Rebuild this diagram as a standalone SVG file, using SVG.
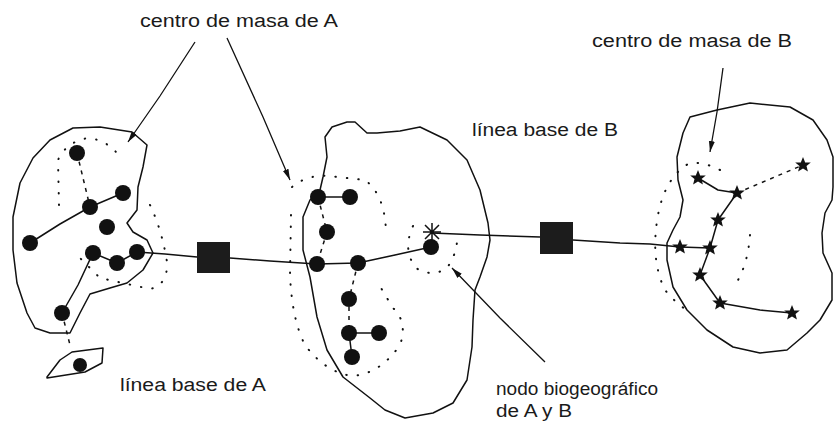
<svg xmlns="http://www.w3.org/2000/svg" width="834" height="426" viewBox="0 0 834 426">
  <style>
    .outline{fill:none;stroke:#111;stroke-width:1.5;stroke-linejoin:round}
    .link{fill:none;stroke:#111;stroke-width:1.5;stroke-linejoin:round}
    .dash{fill:none;stroke:#111;stroke-width:1.5;stroke-dasharray:4 5}
    .dots{fill:none;stroke:#111;stroke-width:2;stroke-linecap:round;stroke-dasharray:0.5 11}
    .leader{fill:none;stroke:#111;stroke-width:1.3;marker-end:url(#arrow)}
    .dot{fill:#111}
    .star{fill:#111}
    .hub{fill:#1c1c1c}
    text{font-family:"Liberation Sans",Arial,sans-serif;font-size:18px;fill:#1a1a1a}
  </style>
  <defs>
    <marker id="arrow" markerUnits="userSpaceOnUse" markerWidth="12" markerHeight="8" refX="11" refY="3.5" orient="auto">
      <path d="M0,0.5 L11,3.5 L0,6.5 Z" fill="#111"/>
    </marker>
    <path id="star5" d="M0,-8 L2.2,-2.6 L7.8,-2.5 L3.5,1.1 L4.9,6.6 L0,3.5 L-4.9,6.6 L-3.5,1.1 L-7.8,-2.5 L-2.2,-2.6 Z"/>
  </defs>

  <rect width="834" height="426" fill="#fff"/>

  <!-- area outlines -->
  <g id="areas">
    <path id="area-A" class="outline" d="M132,132 L100,127 L73,128 L50,140 L33,158 L20,183 L13,217 L13,250 L17,283 L27,313 L35,328 L50,333 L70,333 L80,313 L90,294 L110,288 L127,283 L143,270 L153,253 L147,240 L133,232 L127,223 L137,210 L138,187 L143,167 L147,145 Z"/>
    <path id="area-A-small" class="outline" d="M47,377 L60,360 L72,352 L103,348 L102,363 L85,372 L47,378 Z"/>
    <path id="area-AB" class="outline" d="M325,137 L332,127 L347,122 L355,122 L367,133 L377,133 L400,131 L420,127 L447,140 L467,160 L480,190 L488,223 L490,240 L487,257 L480,277 L475,290 L473,320 L472,347 L467,380 L453,403 L433,413 L405,418 L385,410 L370,398 L343,377 L327,350 L317,317 L310,277 L303,250 L303,217 L310,200 L320,190 L323,177 L327,157 Z"/>
    <path id="area-B" class="outline" d="M683,133 L690,117 L717,110 L750,103 L790,107 L813,120 L827,140 L833,157 L833,187 L832,200 L825,213 L822,233 L823,253 L832,273 L832,300 L820,320 L807,333 L787,350 L760,353 L733,347 L707,330 L687,310 L673,287 L667,260 L667,243 L673,230 L680,217 L683,200 L678,180 L677,157 Z"/>
  </g>

  <!-- dotted cluster envelopes -->
  <g id="envelopes">
    <path class="dots" d="M59,205 L58,160 Q66,142 88,138 Q108,140 120,157"/>
    <path class="dots" d="M150,205 Q162,230 167,262 Q168,285 150,289 L100,278 L80,258"/>
    <path class="dots" d="M292,187 Q310,172 337,177 L365,180 Q385,195 386,232"/>
    <path class="dots" d="M291,215 L290,275 Q292,320 305,345 Q325,372 352,376 Q380,374 400,345 Q408,322 393,308 L378,283"/>
    <path class="dots" d="M413,226 Q402,250 416,268 Q432,278 447,268 Q458,252 457,236"/>
    <path class="dots" d="M720,170 Q700,160 688,164 Q665,178 658,215 Q650,260 665,290 Q678,306 692,313"/>
    <path class="dots" d="M750,235 Q748,262 738,280"/>
  </g>

  <!-- connectors -->
  <g id="connectors">
    <!-- baseline A - hub - AB node - hub - B -->
    <polyline class="link" points="137,252 165,254 197,257"/>
    <polyline class="link" points="230,258 270,261 317,264 358,263 395,255 431,247"/>
    <polyline class="link" points="432,233 480,235 540,237"/>
    <polyline class="link" points="573,240 620,243 650,244 680,247"/>
    <!-- cluster A -->
    <path class="dash" d="M77,153 L90,207"/>
    <polyline class="link" points="30,243 60,224 90,207 123,193"/>
    <polyline class="link" points="93,253 117,263 137,252"/>
    <polyline class="link" points="93,253 78,285 62,313"/>
    <path class="dash" d="M62,313 L70,345"/>
    <!-- cluster AB -->
    <line class="link" x1="318" y1="197" x2="350" y2="197"/>
    <path class="dash" d="M318,197 L327,232 L317,264"/>
    <path class="dash" d="M358,263 L349,299 L349,333"/>
    <line class="link" x1="349" y1="333" x2="379" y2="333"/>
    <line class="link" x1="349" y1="333" x2="352" y2="357"/>
    <!-- cluster B -->
    <polyline class="link" points="698,178 718,190 737,193"/>
    <path class="dash" d="M737,193 L803,165"/>
    <polyline class="link" points="737,193 718,220 710,248"/>
    <line class="link" x1="680" y1="247" x2="710" y2="248"/>
    <polyline class="link" points="710,248 700,275 720,303 760,310 792,313"/>
    <!-- label leaders -->
    <path class="leader" d="M195,42 L160,96 L128,142"/>
    <path class="leader" d="M227,38 L263,117 L290,180"/>
    <path class="leader" d="M723,68 L717,112 L710,152"/>
    <path class="leader" d="M545,362 L500,318 L452,268"/>
  </g>

  <!-- nodes of A -->
  <g id="a1"><circle class="dot" cx="77" cy="153" r="8"/></g>
  <g id="a2"><circle class="dot" cx="123" cy="193" r="8"/></g>
  <g id="a3"><circle class="dot" cx="90" cy="207" r="8"/></g>
  <g id="a4"><circle class="dot" cx="107" cy="227" r="8"/></g>
  <g id="a5"><circle class="dot" cx="30" cy="243" r="8"/></g>
  <g id="a6"><circle class="dot" cx="93" cy="253" r="8"/></g>
  <g id="a7"><circle class="dot" cx="117" cy="263" r="8"/></g>
  <g id="a8"><circle class="dot" cx="137" cy="252" r="8"/></g>
  <g id="a9"><circle class="dot" cx="62" cy="313" r="8"/></g>
  <g id="a10"><circle class="dot" cx="80" cy="365" r="7"/></g>

  <!-- hubs -->
  <g id="hub-A"><rect class="hub" x="197" y="242" width="33" height="31"/></g>
  <g id="hub-B"><rect class="hub" x="540" y="222" width="33" height="32"/></g>

  <!-- nodes of AB -->
  <g id="m1"><circle class="dot" cx="318" cy="197" r="8"/></g>
  <g id="m2"><circle class="dot" cx="350" cy="197" r="8"/></g>
  <g id="m3"><circle class="dot" cx="327" cy="232" r="8"/></g>
  <g id="m4"><circle class="dot" cx="317" cy="264" r="8"/></g>
  <g id="m5"><circle class="dot" cx="358" cy="263" r="8"/></g>
  <g id="m6"><circle class="dot" cx="349" cy="299" r="8"/></g>
  <g id="m7"><circle class="dot" cx="349" cy="333" r="8"/></g>
  <g id="m8"><circle class="dot" cx="379" cy="333" r="8"/></g>
  <g id="m9"><circle class="dot" cx="352" cy="357" r="8"/></g>
  <g id="node-AB">
    <circle class="dot" cx="431" cy="247" r="8"/>
    <path class="link" d="M432,223 L432,241 M423,232 L441,232 M425,225 L439,239 M439,225 L425,239"/>
  </g>

  <!-- nodes of B -->
  <g id="b1"><use href="#star5" class="star" x="698" y="178"/></g>
  <g id="b2"><use href="#star5" class="star" x="737" y="193"/></g>
  <g id="b3"><use href="#star5" class="star" x="803" y="165"/></g>
  <g id="b4"><use href="#star5" class="star" x="718" y="220"/></g>
  <g id="b5"><use href="#star5" class="star" x="680" y="247"/></g>
  <g id="b6"><use href="#star5" class="star" x="710" y="248"/></g>
  <g id="b7"><use href="#star5" class="star" x="700" y="275"/></g>
  <g id="b8"><use href="#star5" class="star" x="720" y="303"/></g>
  <g id="b9"><use href="#star5" class="star" x="792" y="313"/></g>

  <!-- labels -->
  <g id="labels">
    <text x="140" y="27" textLength="198" lengthAdjust="spacingAndGlyphs">centro de masa de A</text>
    <text x="592" y="47" textLength="200" lengthAdjust="spacingAndGlyphs">centro de masa de B</text>
    <text x="472" y="136" textLength="146" lengthAdjust="spacingAndGlyphs">línea base de B</text>
    <text x="120" y="391" textLength="146" lengthAdjust="spacingAndGlyphs">línea base de A</text>
    <text x="496" y="395" textLength="162" lengthAdjust="spacingAndGlyphs">nodo biogeográfico</text>
    <text x="496" y="417" textLength="76" lengthAdjust="spacingAndGlyphs">de A y B</text>
  </g>
</svg>
